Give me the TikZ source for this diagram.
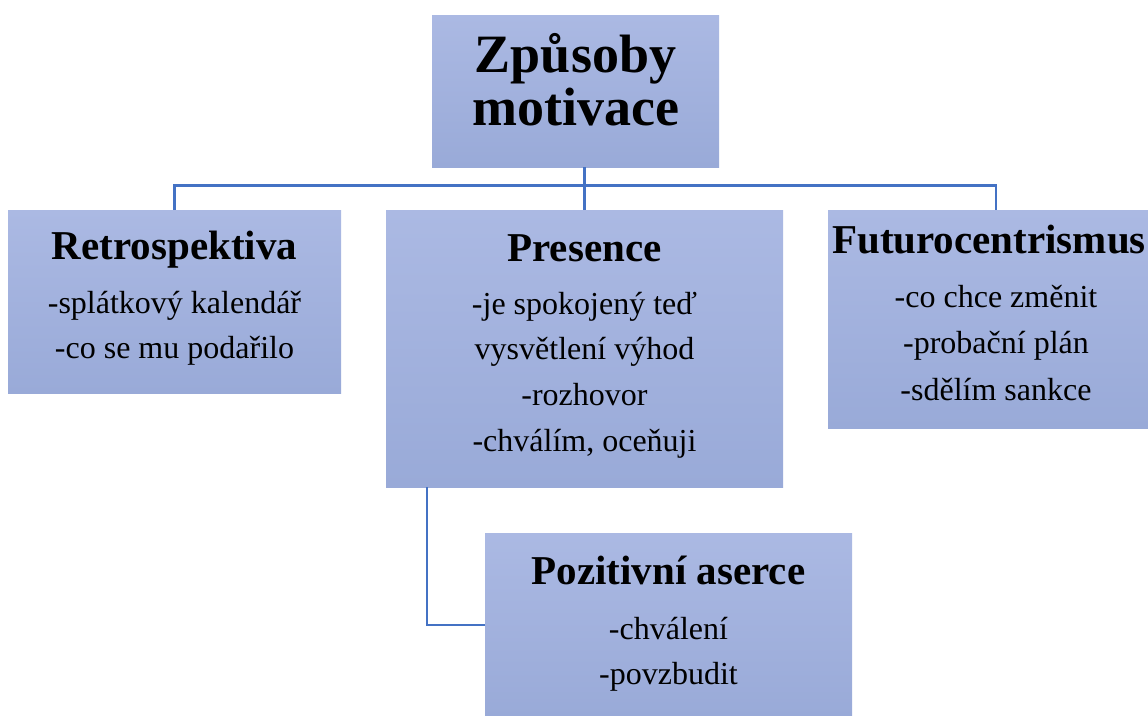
\documentclass[tikz,border=0pt]{standalone}
\usepackage{fontspec}
\setmainfont{Liberation Serif}
\usetikzlibrary{positioning,calc}
\definecolor{linkblue}{RGB}{68,114,196}
\definecolor{boxtop}{RGB}{171,185,227}
\definecolor{boxbottom}{RGB}{153,170,216}

\begin{document}
\begin{tikzpicture}[x=1pt, y=-1pt,
    box/.style={rectangle, draw=none, top color=boxtop, bottom color=boxbottom,
                inner sep=0pt},
    ttl/.style={anchor=base, inner sep=0pt, font=\fontsize{41}{49}\bfseries},
    bigttl/.style={anchor=base, inner sep=0pt, font=\fontsize{54}{60}\bfseries},
    itm/.style={anchor=base, inner sep=0pt, font=\fontsize{32}{46}\selectfont},
    link/.style={draw=linkblue, line width=2.8pt}]
\useasboundingbox (0,0) rectangle (1148,715);
\clip (0,0) rectangle (1148,715);
% boxes
\node[box, minimum width=287, minimum height=152] (root)  at (575.5, 91)  {};
\node[box, minimum width=333, minimum height=183] (retro) at (174.5, 301.5) {};
\node[box, minimum width=397, minimum height=277] (pres)  at (584.5, 348.5) {};
\node[box, minimum width=336, minimum height=218] (fut)   at (996, 319)   {};
\node[box, minimum width=367, minimum height=184] (pos)   at (668.5, 625) {};
% connectors
\coordinate (bus) at ($(retro.north)+(0,-24)$);
\draw[link] (retro.north) -- (bus) -| (fut.north);
\draw[link] (root.south -| pres.north) -- (pres.north);
\coordinate (drop) at (427,0);
\draw[link] (pres.south -| drop) |- (pos.west);
% titles
\node[bigttl] (root-a) at (575.5, 72)  {Způsoby};
\node[bigttl] (root-b) at (575.5, 125) {motivace};
\node[ttl] (retro-t) at (174.5, 259) {Retrospektiva};
\node[ttl] (pres-t)  at (584.5, 261) {Presence};
\node[ttl] (fut-t)   at (989, 253)   {Futurocentrismus};
\node[ttl] (pos-t)   at (668.5, 584) {Pozitivní aserce};
% items
\foreach \t [count=\i] in {-splátkový kalendář, -co se mu podařilo}
  \node[itm] (retro-\i) at (174.5, {313+45*(\i-1)}) {\t};
\foreach \t [count=\i] in {-je spokojený teď, vysvětlení výhod, -rozhovor, {-chválím, oceňuji}}
  \node[itm] (pres-\i) at (584.5, {314+45.7*(\i-1)}) {\t};
\foreach \t [count=\i] in {-co chce změnit, -probační plán, -sdělím sankce}
  \node[itm] (fut-\i) at (996, {307+46.5*(\i-1)}) {\t};
\foreach \t [count=\i] in {-chválení, -povzbudit}
  \node[itm] (pos-\i) at (668.5, {639+45*(\i-1)}) {\t};
\end{tikzpicture}
\end{document}
